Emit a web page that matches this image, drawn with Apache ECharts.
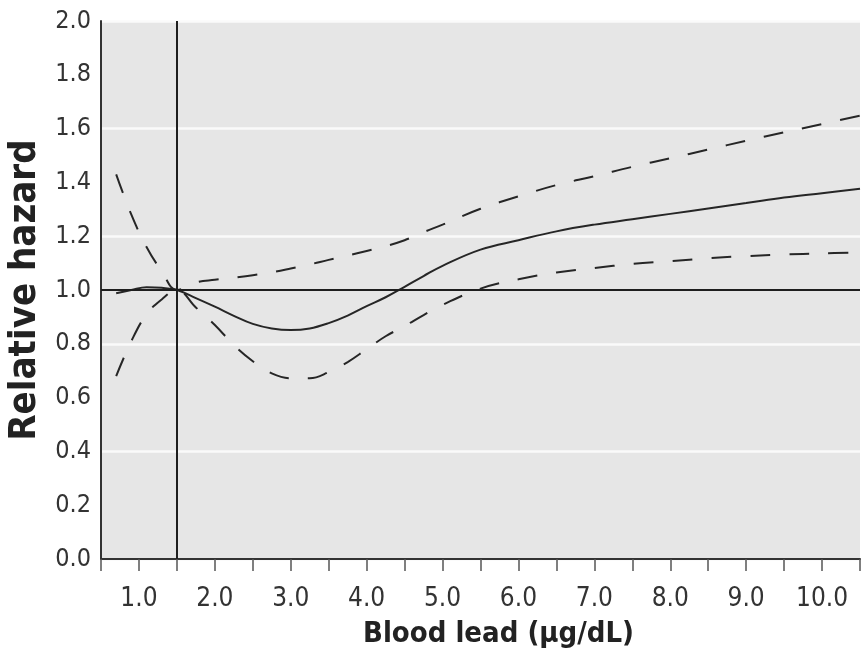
<!DOCTYPE html>
<html>
<head>
<meta charset="utf-8">
<script src="https://cdn.jsdelivr.net/npm/echarts@6/dist/echarts.min.js"></script>
<style>
  html, body { margin: 0; padding: 0; background: #fff; }
  #chart { width: 861px; height: 669px; }
</style>
</head>
<body>
<div id="chart"></div>
<script>
// blood lead (ug/dL) sample points
var lead = [0.7, 0.9, 1.1, 1.3, 1.5, 1.75, 2.0, 2.25, 2.5, 2.75, 3.0, 3.25, 3.5, 3.75, 4.0,
  4.25, 4.5, 4.75, 5.0, 5.5, 6.0, 6.5, 7.0, 7.5, 8.0, 8.5, 9.0, 9.5, 10.0, 10.5];
// relative hazard estimate
var hazard = [0.988, 1.0, 1.01, 1.008, 1.0, 0.97, 0.938, 0.904, 0.874, 0.857, 0.851, 0.857, 0.877, 0.905, 0.94,
  0.973, 1.012, 1.052, 1.09, 1.15, 1.185, 1.218, 1.243, 1.263, 1.283, 1.303, 1.323, 1.344, 1.36, 1.376];
// 95% CI bounds
var upperCI = [1.43, 1.28, 1.16, 1.07, 1.0, 1.028, 1.038, 1.046, 1.055, 1.066, 1.08, 1.095, 1.112, 1.128, 1.145,
  1.163, 1.185, 1.215, 1.243, 1.302, 1.348, 1.39, 1.423, 1.458, 1.49, 1.522, 1.555, 1.586, 1.617, 1.648];
var lowerCI = [0.68, 0.81, 0.91, 0.965, 1.0, 0.935, 0.87, 0.795, 0.735, 0.69, 0.672, 0.672, 0.695, 0.732, 0.78,
  0.828, 0.866, 0.907, 0.945, 1.005, 1.04, 1.065, 1.082, 1.097, 1.107, 1.118, 1.126, 1.132, 1.136, 1.14];
var refLead = 1.5;
var refHazard = 1.0;

function pairs(ys) {
  return lead.map(function (x, i) { return [x, ys[i]]; });
}

var font = "'Liberation Sans Narrow', 'DejaVu Sans Condensed', 'Roboto', sans-serif";
var ink = '#262626';

var chart = echarts.init(document.getElementById('chart'));
chart.setOption({
  animation: false,
  backgroundColor: '#fff',
  grid: {
    left: 101, right: 1, top: 21, bottom: 110,
    outerBoundsMode: 'none', containLabel: false,
    show: true, backgroundColor: '#e6e6e6', borderWidth: 0
  },
  xAxis: {
    type: 'value', min: 0.5, max: 10.5, interval: 0.5,
    name: 'Blood lead (μg/dL)', nameLocation: 'middle', nameGap: 61,
    nameTextStyle: { fontFamily: font, fontWeight: 'bold', fontSize: 29, color: '#222', padding: [0, 0, 0, 36] },
    axisLine: { lineStyle: { color: '#333', width: 2 } },
    axisTick: { length: 12, lineStyle: { color: '#555', width: 1.5 } },
    axisLabel: {
      margin: 27, fontFamily: font, fontSize: 26, color: '#333',
      formatter: function (v) { return Number.isInteger(v) ? v.toFixed(1) : ''; }
    },
    splitLine: { show: false }
  },
  yAxis: [{
    type: 'value', min: 0, max: 2, interval: 0.2,
    name: 'Relative hazard', nameLocation: 'middle', nameGap: 54,
    nameTextStyle: { fontFamily: font, fontWeight: 'bold', fontSize: 38, color: '#222' },
    axisLine: { show: true, lineStyle: { color: '#333', width: 2 } },
    axisTick: { show: false },
    axisLabel: {
      margin: 10, fontFamily: font, fontSize: 25, color: '#333',
      formatter: function (v) { return v.toFixed(1); }
    },
    splitLine: { show: false }
  }, {
    type: 'value', min: 0, max: 2, interval: 0.4, position: 'left',
    axisLine: { show: false }, axisTick: { show: false }, axisLabel: { show: false },
    splitLine: { show: true, lineStyle: { color: '#fafafa', width: 2.5 } }
  }],
  series: [{
    name: 'Relative hazard', type: 'line', smooth: 0.4, showSymbol: false,
    data: pairs(hazard),
    lineStyle: { color: ink, width: 2 },
    z: 3,
    markLine: {
      silent: true, symbol: 'none', label: { show: false },
      lineStyle: { color: '#1e1e1e', width: 2, type: 'solid' },
      data: [{ xAxis: refLead }, { yAxis: refHazard }]
    }
  }, {
    name: 'Upper 95% CI', type: 'line', smooth: 0.4, showSymbol: false,
    data: pairs(upperCI),
    lineStyle: { color: ink, width: 2, type: [20, 19] },
    z: 3
  }, {
    name: 'Lower 95% CI', type: 'line', smooth: 0.4, showSymbol: false,
    data: pairs(lowerCI),
    lineStyle: { color: ink, width: 2, type: [20, 19] },
    z: 3
  }]
});
</script>
</body>
</html>
